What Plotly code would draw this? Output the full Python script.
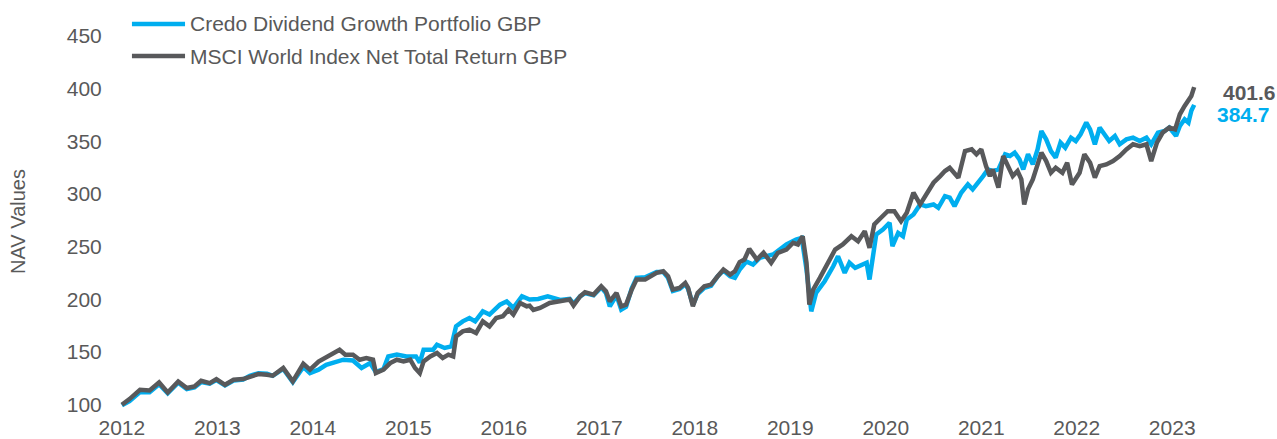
import plotly.graph_objects as go

# ---- data (decimal years, NAV values) ----
msci_x = [2012.00, 2012.08, 2012.19, 2012.29, 2012.39, 2012.48, 2012.59, 2012.68, 2012.76, 2012.83,
          2012.92, 2012.99, 2013.08, 2013.17, 2013.27, 2013.34, 2013.43, 2013.52, 2013.58, 2013.69,
          2013.79, 2013.90, 2013.97, 2014.06, 2014.18, 2014.28, 2014.34, 2014.42, 2014.49, 2014.56,
          2014.63, 2014.66, 2014.74, 2014.81, 2014.88, 2014.95, 2015.02, 2015.07, 2015.12, 2015.16,
          2015.23, 2015.30, 2015.36, 2015.42, 2015.47, 2015.50, 2015.57, 2015.64, 2015.71, 2015.78,
          2015.85, 2015.92, 2015.99, 2016.05, 2016.10, 2016.17, 2016.24, 2016.27, 2016.31, 2016.38,
          2016.48, 2016.59, 2016.69, 2016.73, 2016.80, 2016.85, 2016.94, 2017.02, 2017.07, 2017.11,
          2017.18, 2017.23, 2017.28, 2017.34, 2017.39, 2017.48, 2017.53, 2017.60, 2017.67, 2017.72,
          2017.77, 2017.84, 2017.90, 2017.93, 2017.98, 2018.03, 2018.10, 2018.17, 2018.24, 2018.30,
          2018.37, 2018.42, 2018.47, 2018.52, 2018.57, 2018.65, 2018.72, 2018.80, 2018.87, 2018.96,
          2019.03, 2019.08, 2019.13, 2019.17, 2019.20, 2019.24, 2019.31, 2019.40, 2019.47, 2019.55,
          2019.64, 2019.71, 2019.78, 2019.83, 2019.88, 2019.95, 2020.02, 2020.09, 2020.16, 2020.22,
          2020.29, 2020.36, 2020.42, 2020.50, 2020.57, 2020.62, 2020.67, 2020.72, 2020.76, 2020.83,
          2020.90, 2020.95, 2021.00, 2021.05, 2021.09, 2021.12, 2021.18, 2021.23, 2021.28, 2021.33,
          2021.38, 2021.42, 2021.45, 2021.49, 2021.54, 2021.57, 2021.63, 2021.68, 2021.73, 2021.78,
          2021.85, 2021.90, 2021.95, 2022.03, 2022.08, 2022.14, 2022.19, 2022.24, 2022.31, 2022.38,
          2022.45, 2022.52, 2022.59, 2022.66, 2022.73, 2022.78, 2022.84, 2022.90, 2022.97, 2023.03,
          2023.08, 2023.13, 2023.17, 2023.20, 2023.23]
msci_y = [100.0, 105.4, 114.3, 113.6, 121.2, 111.7, 122.2, 115.9, 117.4, 122.8,
          120.6, 124.4, 119.0, 123.8, 124.4, 126.9, 129.2, 128.5, 127.6, 134.9,
          122.2, 139.0, 133.3, 141.0, 147.6, 152.3, 147.6, 147.6, 142.8, 144.4,
          142.8, 130.1, 133.3, 139.6, 142.8, 141.2, 142.8, 134.9, 130.1, 141.2,
          145.9, 149.2, 144.4, 147.6, 145.9, 165.0, 169.7, 171.3, 168.2, 179.2,
          174.5, 182.4, 184.0, 190.3, 185.6, 196.7, 193.5, 194.0, 190.0, 192.0,
          196.7, 198.2, 199.9, 194.2, 203.0, 206.8, 204.6, 212.5, 207.7, 198.2,
          206.2, 193.5, 195.1, 209.4, 218.9, 218.9, 222.0, 225.2, 226.8, 222.0,
          209.4, 211.0, 215.7, 211.0, 193.5, 206.2, 212.5, 214.1, 222.0, 228.4,
          223.6, 226.8, 235.5, 237.9, 248.0, 237.9, 244.3, 234.8, 244.3, 247.4,
          253.8, 252.2, 260.0, 234.8, 195.1, 209.4, 220.5, 234.8, 247.4, 252.2,
          260.0, 255.3, 264.8, 249.0, 271.2, 277.6, 283.8, 283.8, 274.3, 282.3,
          301.3, 290.2, 299.7, 310.8, 317.1, 321.9, 325.0, 320.3, 315.6, 340.9,
          342.5, 337.8, 342.5, 326.6, 317.1, 323.5, 306.1, 336.2, 326.6, 317.1,
          321.9, 314.0, 290.2, 304.5, 314.0, 323.5, 339.4, 331.4, 320.3, 325.0,
          320.3, 329.8, 309.2, 320.3, 337.8, 329.8, 315.6, 326.6, 328.2, 331.4,
          336.2, 342.5, 347.3, 345.6, 347.3, 331.4, 348.9, 358.4, 363.2, 361.5,
          375.8, 383.7, 388.4, 393.2, 401.6]

credo_x = [2012.00, 2012.08, 2012.19, 2012.29, 2012.39, 2012.48, 2012.59, 2012.68, 2012.76, 2012.83,
           2012.92, 2012.99, 2013.08, 2013.17, 2013.27, 2013.34, 2013.43, 2013.52, 2013.58, 2013.69,
           2013.79, 2013.90, 2013.97, 2014.06, 2014.14, 2014.21, 2014.32, 2014.42, 2014.51, 2014.60,
           2014.66, 2014.74, 2014.79, 2014.88, 2014.98, 2015.08, 2015.12, 2015.16, 2015.26, 2015.30,
           2015.38, 2015.45, 2015.50, 2015.57, 2015.64, 2015.70, 2015.78, 2015.85, 2015.96, 2016.03,
           2016.10, 2016.19, 2016.27, 2016.36, 2016.46, 2016.59, 2016.69, 2016.73, 2016.80, 2016.85,
           2016.94, 2017.02, 2017.07, 2017.11, 2017.18, 2017.23, 2017.28, 2017.34, 2017.39, 2017.48,
           2017.53, 2017.60, 2017.67, 2017.72, 2017.77, 2017.84, 2017.90, 2017.93, 2017.98, 2018.03,
           2018.10, 2018.17, 2018.24, 2018.30, 2018.37, 2018.42, 2018.47, 2018.54, 2018.61, 2018.68,
           2018.82, 2018.96, 2019.06, 2019.12, 2019.17, 2019.22, 2019.27, 2019.36, 2019.45, 2019.50,
           2019.57, 2019.62, 2019.68, 2019.75, 2019.80, 2019.83, 2019.87, 2019.90, 2019.97, 2020.04,
           2020.07, 2020.13, 2020.18, 2020.22, 2020.29, 2020.36, 2020.42, 2020.50, 2020.55, 2020.62,
           2020.67, 2020.72, 2020.79, 2020.86, 2020.91, 2020.97, 2021.02, 2021.07, 2021.12, 2021.18,
           2021.25, 2021.30, 2021.35, 2021.40, 2021.44, 2021.49, 2021.54, 2021.59, 2021.63, 2021.68,
           2021.73, 2021.78, 2021.83, 2021.88, 2021.94, 2021.99, 2022.04, 2022.10, 2022.14, 2022.19,
           2022.24, 2022.29, 2022.34, 2022.40, 2022.45, 2022.52, 2022.59, 2022.66, 2022.73, 2022.78,
           2022.85, 2022.92, 2022.97, 2023.04, 2023.08, 2023.13, 2023.17, 2023.20, 2023.23]
credo_y = [99.5, 103.5, 112.0, 112.0, 119.5, 111.0, 121.0, 115.0, 116.5, 121.5,
           120.0, 123.5, 118.5, 123.0, 124.0, 127.5, 130.0, 129.5, 127.5, 134.0,
           121.5, 136.0, 130.1, 133.3, 138.0, 139.6, 142.8, 142.0, 135.0, 139.6,
           131.0, 134.0, 145.9, 147.6, 145.9, 145.9, 140.0, 152.3, 152.3, 157.0,
           153.9, 155.4, 174.5, 179.2, 182.4, 179.2, 188.7, 185.6, 195.1, 198.2,
           192.0, 203.0, 199.9, 200.5, 203.0, 199.5, 200.5, 196.0, 203.0, 206.0,
           204.0, 211.5, 206.0, 193.5, 204.0, 190.3, 193.0, 210.5, 220.5, 221.0,
           223.5, 226.0, 226.0, 220.5, 208.0, 210.0, 214.5, 210.0, 195.0, 205.0,
           211.0, 213.0, 222.0, 227.5, 222.0, 220.5, 228.4, 236.0, 233.1, 239.5,
           242.7, 252.2, 256.9, 258.5, 228.4, 188.7, 206.2, 217.3, 231.5, 241.0,
           225.2, 234.8, 230.0, 233.1, 234.8, 218.9, 244.3, 261.7, 266.4, 272.8,
           250.6, 263.2, 260.0, 275.9, 280.7, 290.2, 288.6, 290.2, 287.0, 298.1,
           296.6, 288.6, 301.3, 309.2, 304.5, 312.4, 317.1, 323.5, 321.9, 323.5,
           337.8, 336.2, 339.4, 333.0, 323.5, 337.8, 328.2, 342.5, 359.9, 352.0,
           340.9, 334.6, 348.9, 344.1, 353.6, 350.4, 356.8, 367.9, 361.5, 347.3,
           363.2, 356.8, 350.4, 355.2, 347.3, 352.0, 353.6, 350.4, 353.6, 347.3,
           358.4, 359.9, 363.2, 355.2, 364.7, 371.1, 367.9, 379.1, 384.7]

year_ticks = [2012, 2013, 2014, 2015, 2016, 2017, 2018, 2019, 2020, 2021, 2022, 2023]
year_labels = [str(y) for y in year_ticks]
y_ticks = [100, 150, 200, 250, 300, 350, 400, 450]

series_names = ["Credo Dividend Growth Portfolio GBP", "MSCI World Index Net Total Return GBP"]
end_labels = ["384.7", "401.6"]

BLUE = "#00AEEF"
GREY = "#58595B"
TXT = "#595959"
FONT = "Liberation Sans, Arial, sans-serif"

fig = go.Figure()
fig.add_trace(go.Scatter(x=credo_x, y=credo_y, mode="lines", name=series_names[0],
                         line=dict(color=BLUE, width=4.5), showlegend=False))
fig.add_trace(go.Scatter(x=msci_x, y=msci_y, mode="lines", name=series_names[1],
                         line=dict(color=GREY, width=4.5), showlegend=False))

# legend drawn as line samples + text, placed in the top-left corner
legend_rows = [(series_names[0], BLUE, 1.0267), (series_names[1], GREY, 0.9413)]
for name, col, ypos in legend_rows:
    fig.add_shape(type="line", xref="paper", yref="paper", x0=0.0120, x1=0.0612, y0=ypos, y1=ypos,
                  line=dict(color=col, width=4.5))
    fig.add_annotation(x=0.0639, y=ypos, xref="paper", yref="paper", text=name, showarrow=False,
                       xanchor="left", yanchor="middle",
                       font=dict(family=FONT, size=21, color=TXT))

# end-of-line value labels
fig.add_annotation(x=1.0213, y=0.8453, xref="paper", yref="paper", text="<b>" + end_labels[1] + "</b>",
                   showarrow=False, xanchor="left", yanchor="middle",
                   font=dict(family=FONT, size=21, color=GREY))
fig.add_annotation(x=1.0158, y=0.7853, xref="paper", yref="paper", text="<b>" + end_labels[0] + "</b>",
                   showarrow=False, xanchor="left", yanchor="middle",
                   font=dict(family=FONT, size=21, color=BLUE))

fig.update_layout(
    width=1277, height=439,
    margin=dict(l=119, r=79, t=34, b=30, autoexpand=False),
    paper_bgcolor="white", plot_bgcolor="white",
    font=dict(family=FONT, size=21, color=TXT),
    showlegend=False,
)
fig.update_xaxes(range=[2011.97, 2023.27], tickmode="array", tickvals=year_ticks, ticktext=year_labels,
                 showgrid=False, zeroline=False, showline=False,
                 ticks="outside", ticklen=0, tickcolor="rgba(0,0,0,0)",
                 tickfont=dict(family=FONT, size=21, color=TXT))
fig.update_yaxes(range=[96, 452], tickmode="array", tickvals=y_ticks,
                 showgrid=False, zeroline=False, showline=False,
                 ticks="outside", ticklen=12, tickcolor="rgba(0,0,0,0)",
                 tickfont=dict(family=FONT, size=21, color=TXT),
                 title=dict(text="NAV Values", standoff=35, font=dict(family=FONT, size=20, color=TXT)))

# remove the browser's default 8px page margin so the figure fills the window exactly
fig.write_html("out.html", config={"displayModeBar": False},
               post_script="document.body.style.margin='0';document.documentElement.style.overflow='hidden';")
